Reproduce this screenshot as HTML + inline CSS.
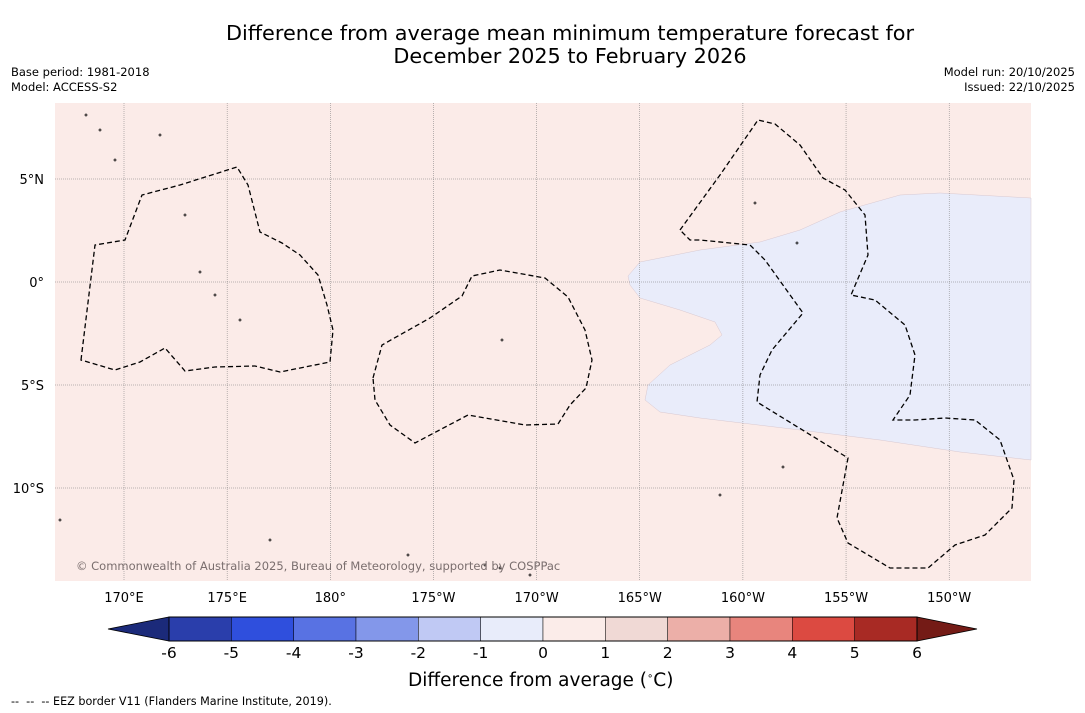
<!DOCTYPE html>
<html><head><meta charset="utf-8">
<style>
body{margin:0;background:#fff;font-family:"DejaVu Sans","Liberation Sans",sans-serif;}
#wrap{position:relative;width:1085px;height:713px;overflow:hidden;background:#fff;}
.t{position:absolute;white-space:nowrap;color:#000;}
</style></head><body>
<div id="wrap">
<div class="t" style="left:0;width:1140px;text-align:center;top:22px;font-size:20.8px;line-height:23px;">Difference from average mean minimum temperature forecast for<br>December 2025 to February 2026</div>
<div class="t" style="left:11px;top:65px;font-size:11.5px;line-height:15px;">Base period: 1981-2018<br>Model: ACCESS-S2</div>
<div class="t" style="right:10px;top:65px;font-size:11.5px;line-height:15px;text-align:right;">Model run: 20/10/2025<br>Issued: 22/10/2025</div>
<svg id="svg" width="1085" height="713" style="position:absolute;left:0;top:0"></svg>
<div class="t" style="left:408px;top:670px;font-size:18.5px;">Difference from average (<sup style="font-size:10px">∘</sup>C)</div>
<div class="t" style="left:11px;top:695px;font-size:11.2px;">--&nbsp; --&nbsp; -- EEZ border V11 (Flanders Marine Institute, 2019).</div>
</div>
<script>
const lonTicks=[170,175,180,185,190,195,200,205,210];
const lonLabels=["170°E","175°E","180°","175°W","170°W","165°W","160°W","155°W","150°W"];
const latTicks=[5,0,-5,-10];
const latLabels=["5°N","0°","5°S","10°S"];
const cbLevels=[-6,-5,-4,-3,-2,-1,0,1,2,3,4,5,6];
const cbColors=["#2a3eab","#2f4fdd","#5872e3","#8397ea","#c0c9f4","#e8ecfa","#fbece9","#f0d9d5","#ecafa8","#e8857d","#dc4a41","#a82a24"];
const cbLow="#1b2a7a", cbHigh="#741b16";

const NS="http://www.w3.org/2000/svg";
const svg=document.getElementById('svg');
function el(t,a){const e=document.createElementNS(NS,t);for(const k in a)e.setAttribute(k,a[k]);svg.appendChild(e);return e;}
const X0=55,X1=1031,Y0=103,Y1=581;
const xLon=l=>124+(l-170)*20.63;
const yLat=l=>282-l*20.6;

let r=el('rect',{x:X0,y:Y0,width:X1-X0,height:Y1-Y0,fill:'#fbebe8'});

let b=el('path',{d:'M628,276 L640,262 700,250 760,242 800,230 840,212 900,195 940,193 1031,198 1031,460 960,452 880,440 800,430 700,418 660,412 645,400 648,385 670,365 710,345 722,335 715,322 680,310 640,298 630,285Z',fill:'#e9ecfa',stroke:'#d8c8d0','stroke-width':0.5});


lonTicks.forEach((l,i)=>{const x=xLon(l);
 let g=el('line',{x1:x,x2:x,y1:Y0,y2:Y1,stroke:'#777','stroke-width':0.5,'stroke-dasharray':'1,1'});
 
 let t=el('text',{x:x,y:602,'text-anchor':'middle','font-size':13,'font-family':'DejaVu Sans,sans-serif'});t.textContent=lonLabels[i];
 });
latTicks.forEach((l,i)=>{const y=yLat(l);
 let g=el('line',{x1:X0,x2:X1,y1:y,y2:y,stroke:'#777','stroke-width':0.5,'stroke-dasharray':'1,1'});
 
 let t=el('text',{x:44,y:y+5,'text-anchor':'end','font-size':13,'font-family':'DejaVu Sans,sans-serif'});t.textContent=latLabels[i];
 });

const eez=['M81,360 L95,245 125,240 142,195 180,185 237,167 248,185 260,232 282,243 300,255 318,275 327,305 333,330 330,362 280,372 255,366 215,367 185,371 165,348 140,362 115,370Z',
'M373,378 L382,345 430,318 462,296 472,276 500,270 545,278 568,297 585,330 592,360 586,388 570,405 558,424 525,425 468,415 415,443 390,425 375,400Z',
'M680,230 L720,175 758,120 775,124 800,145 823,178 845,190 865,215 868,255 851,295 875,300 905,325 915,355 910,395 893,420 915,420 945,418 975,420 1000,440 1014,480 1012,508 985,535 955,545 928,568 890,568 848,543 837,518 848,458 757,402 760,375 772,350 803,313 765,260 750,245 700,240 690,240Z'];
eez.forEach(d=>{let p=el('path',{d:d,fill:'none',stroke:'#000','stroke-width':1.3,'stroke-dasharray':'5,3'});
 });
[[86,115],[100,130],[115,160],[160,135],[185,215],[200,272],[215,295],[240,320],[270,540],[408,555],[485,565],[500,568],[530,575],[60,520],[755,203],[797,243],[783,467],[720,495],[502,340]].forEach(p=>{
 let c=el('circle',{cx:p[0],cy:p[1],r:1,fill:'none',stroke:'#000','stroke-width':0.7});
 });

let cp=el('text',{x:76,y:570,'font-size':11.5,fill:'#7a6e6e','font-family':'DejaVu Sans,sans-serif'});cp.textContent='© Commonwealth of Australia 2025, Bureau of Meteorology, supported by COSPPac';


const CB0=169,CB1=917,CT=617,CBt=641;
const xCb=v=>CB0+(v-cbLevels[0])/(cbLevels[cbLevels.length-1]-cbLevels[0])*(CB1-CB0);
let lo=el('polygon',{points:`${CB0},${CT} ${CB0},${CBt} 108,${(CT+CBt)/2}`,fill:cbLow,stroke:'#000','stroke-width':0.8});

let hi=el('polygon',{points:`${CB1},${CT} ${CB1},${CBt} 977,${(CT+CBt)/2}`,fill:cbHigh,stroke:'#000','stroke-width':0.8});

cbColors.forEach((c,i)=>{const a=xCb(cbLevels[i]),bb=xCb(cbLevels[i+1]);
 let s=el('rect',{x:a,y:CT,width:bb-a,height:CBt-CT,fill:c,stroke:'#000','stroke-width':0.5});
 });
el('rect',{x:CB0,y:CT,width:CB1-CB0,height:CBt-CT,fill:'none',stroke:'#000','stroke-width':1});
cbLevels.forEach(v=>{let t=el('text',{x:xCb(v),y:658,'text-anchor':'middle','font-size':15.5,'font-family':'DejaVu Sans,sans-serif'});t.textContent=v;
 });
</script>
</body></html>
